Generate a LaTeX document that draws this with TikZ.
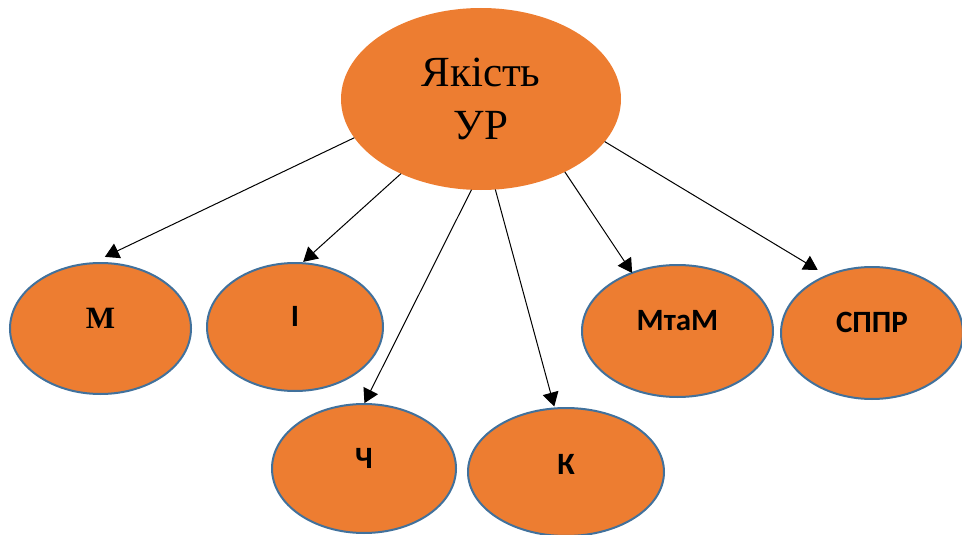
\documentclass[tikz,border=0pt]{standalone}
\usepackage{fontspec}
\setmainfont{Liberation Serif}
\newfontfamily\calibri{Carlito}
\usetikzlibrary{arrows.meta,shapes}
\definecolor{fillorange}{HTML}{ED7D31}
\definecolor{rimblue}{HTML}{41719C}

\begin{document}
\begin{tikzpicture}[x=1pt,y=1pt]
		\tikzstyle{every node}=[inner sep=0pt, outer sep=0pt]
		\tikzstyle{root}=[ellipse, fill=fillorange, minimum width=280pt, minimum height=182pt, align=center, font=\fontsize{43}{53}\selectfont]
		\tikzstyle{leaf}=[ellipse, fill=fillorange, draw=rimblue, line width=2pt, text depth=21pt, font=\calibri\bfseries\fontsize{31}{37}\selectfont]
		\tikzstyle{link}=[line width=1pt, -{Triangle[length=14pt,width=16pt]}]
		\useasboundingbox (0,0) rectangle (962,-535);
		\node [root] (quality) at (481,-99) {Якість\\УР};
		\node [leaf, minimum width=181pt, minimum height=131pt, font=\bfseries\fontsize{31}{37}\selectfont] (m) at (100.5,-328.5) {М};
		\node [leaf, minimum width=176pt, minimum height=128pt] (i) at (295,-327) {І};
		\node [leaf, minimum width=184pt, minimum height=129pt] (ch) at (364,-468.5) {Ч};
		\node [leaf, minimum width=196pt, minimum height=128pt, text depth=16pt] (k) at (566,-472) {К};
		\node [leaf, minimum width=191pt, minimum height=132pt] (mtam) at (677.5,-331) {МтаМ};
		\node [leaf, minimum width=182pt, minimum height=132pt] (sppr) at (872,-333) {СППР};
		\draw [link, shorten >=15pt] (quality.197) -- (m.98);
		\draw [link, shorten >=2pt] (quality.223) -- (i.84);
		\draw [link, shorten >=1pt] (quality.264) -- (ch.90);
		\draw [link, shorten >=2pt] (quality.279) -- (k.100);
		\draw [link] (quality.319) -- (mtam.128);
		\draw [link, shorten >=11pt] (quality.341) -- (sppr.128);
	\end{tikzpicture}
\end{document}
